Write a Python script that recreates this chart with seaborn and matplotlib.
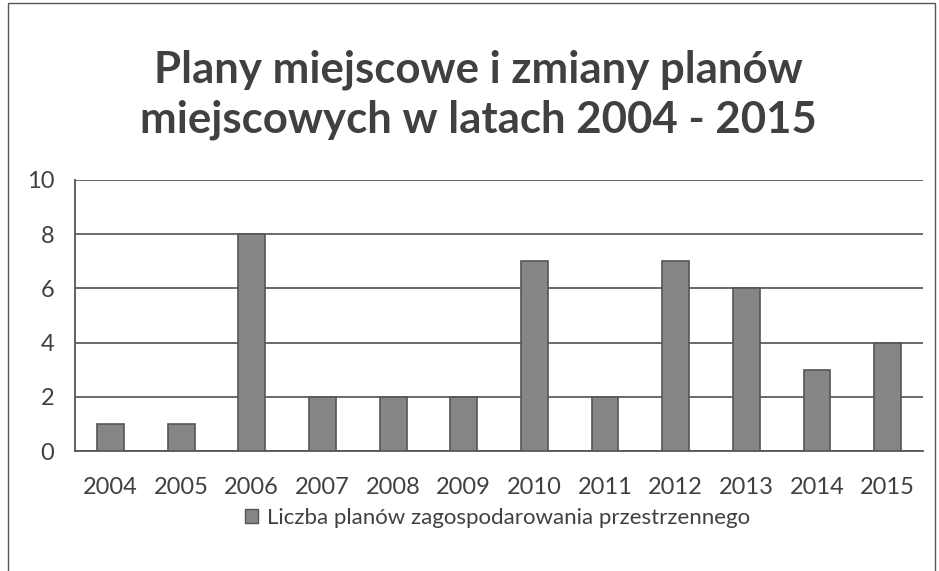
import matplotlib
matplotlib.use("Agg")
import matplotlib.pyplot as plt
import seaborn as sns
import pandas as pd
from matplotlib.patches import Patch, Rectangle

# dane z wykresu
years = ["2004", "2005", "2006", "2007", "2008", "2009",
         "2010", "2011", "2012", "2013", "2014", "2015"]
plans = [1, 1, 8, 2, 2, 2, 7, 2, 7, 6, 3, 4]
series_label = "Liczba planów zagospodarowania przestrzennego"
title = "Plany miejscowe i zmiany planów\nmiejscowych w latach 2004 - 2015"

sns.set_theme(style="white")
plt.rcParams['font.family'] = ['Lato', 'DejaVu Sans']

df = pd.DataFrame({"rok": years, "liczba": plans})

fig = plt.figure(figsize=(9.39, 5.71), dpi=100)
ax = fig.add_axes([0.080, 0.210, 0.903, 0.475])

sns.barplot(data=df, x="rok", y="liczba", color="#868686", width=0.38,
            saturation=1, edgecolor="#555555", linewidth=1.2, ax=ax, zorder=3)

ax.set_ylim(0, 10)
ax.set_yticks(range(0, 11, 2))
ax.set_xlim(-0.5, len(years) - 0.5)
ax.yaxis.grid(True, color="#5e5e5e", linewidth=1.3, zorder=0)
ax.set_axisbelow(True)
ax.set_xlabel("")
ax.set_ylabel("")

for side in ["top", "right"]:
    ax.spines[side].set_visible(False)
for side in ["left", "bottom"]:
    ax.spines[side].set_color("#555555")
    ax.spines[side].set_linewidth(1.3)

# znaczniki osi X na granicach kategorii
ax.set_xticks([i - 0.5 for i in range(len(years) + 1)], minor=True)
ax.tick_params(axis="x", which="minor", length=6, color="#555555", width=1.2, direction="out")
ax.tick_params(axis="x", which="major", length=0, labelsize=17, labelcolor="#404040", pad=19)
ax.tick_params(axis="y", length=6, color="#555555", width=1.2, direction="out",
               labelsize=17, labelcolor="#404040", pad=9)

fig.text(0.509, 0.834, title, ha="center", va="center", fontsize=31.5,
         fontweight="bold", color="#404040", linespacing=1.28)

handle = Patch(facecolor="#868686", edgecolor="#555555", label=series_label)
fig.legend(handles=[handle], loc="center", bbox_to_anchor=(0.53, 0.093),
           frameon=False, fontsize=16, labelcolor="#404040",
           handlelength=0.6, handleheight=0.6, handletextpad=0.4)

# ramka wykresu
fig.patches.append(Rectangle((0.009, -0.01), 0.987, 1.005, transform=fig.transFigure,
                             fill=False, edgecolor="#555555", linewidth=1.0))

fig.savefig("out.png", dpi=100)
